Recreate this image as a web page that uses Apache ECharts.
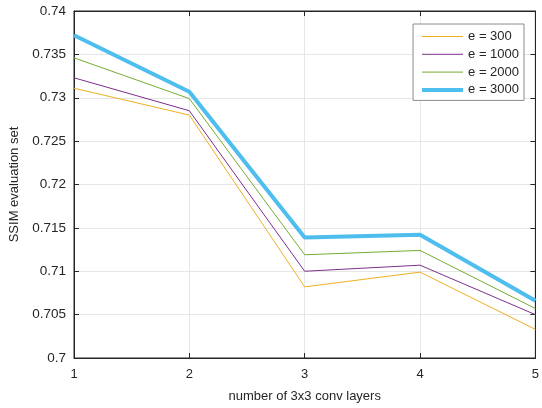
<!DOCTYPE html>
<html><head><meta charset="utf-8">
<script src="https://cdn.jsdelivr.net/npm/echarts@6/dist/echarts.min.js"></script>
<style>html,body{margin:0;padding:0;background:#fff}#c{width:542px;height:408px}</style>
</head><body><div id="c"></div>
<script>
const layers = [1, 2, 3, 4, 5];
const seriesNames = ['e = 300', 'e = 1000', 'e = 2000', 'e = 3000'];
const e300  = [0.7311, 0.7280, 0.7082, 0.7099, 0.7033];
const e1000 = [0.7323, 0.7285, 0.7100, 0.7107, 0.7050];
const e2000 = [0.7346, 0.7299, 0.7119, 0.7124, 0.7057];
const e3000 = [0.7372, 0.7307, 0.7139, 0.7142, 0.7066];
const colors = ['#EDB120', '#7E2F8E', '#77AC30', '#4DBEEE'];
const widths = [1, 1, 1, 4];
const allData = [e300, e1000, e2000, e3000];

const font = 'Liberation Sans, Arial, sans-serif';
const chart = echarts.init(document.getElementById('c'), null, {renderer: 'canvas'});
const axisCol = '#262626';
const gridLine = {show: true, lineStyle: {color: '#e6e6e6', width: 1}};
chart.setOption({
  animation: false,
  grid: {left: 74, right: 5, top: 11, bottom: 46, show: true, borderColor: axisCol, borderWidth: 1, backgroundColor: '#fff'},
  legend: {
    orient: 'vertical', right: 18, top: 24,
    data: seriesNames.map((n, i) => ({name: n, lineStyle: {width: widths[i], color: colors[i]}})),
    itemWidth: 41, itemHeight: 12, itemGap: 4.8,
    itemStyle: {opacity: 0},
    backgroundColor: '#fff', borderColor: '#8c8c8c', borderWidth: 1,
    padding: [6, 5, 4, 7],
    textStyle: {fontFamily: font, fontSize: 13, color: '#262626'}
  },
  xAxis: [{
    type: 'value', min: 1, max: 5, interval: 1,
    name: 'number of 3x3 conv layers', nameLocation: 'middle', nameGap: 32,
    nameTextStyle: {fontFamily: font, fontSize: 13, color: '#262626'},
    axisLine: {lineStyle: {color: axisCol}},
    axisTick: {inside: true, length: 5, lineStyle: {color: axisCol}},
    axisLabel: {fontFamily: font, fontSize: 13, color: '#262626', margin: 10},
    splitLine: gridLine
  }, {
    type: 'value', min: 1, max: 5, interval: 1, position: 'top',
    axisLine: {lineStyle: {color: axisCol}},
    axisTick: {inside: true, length: 5, lineStyle: {color: axisCol}},
    axisLabel: {show: false}, splitLine: {show: false}
  }],
  yAxis: [{
    type: 'value', min: 0.7, max: 0.74, interval: 0.005,
    name: 'SSIM evaluation set', nameLocation: 'middle', nameGap: 49,
    nameTextStyle: {fontFamily: font, fontSize: 13, color: '#262626'},
    axisLine: {show: true, lineStyle: {color: axisCol}},
    axisTick: {show: true, inside: true, length: 5, lineStyle: {color: axisCol}},
    axisLabel: {fontFamily: font, fontSize: 13.5, color: '#262626', margin: 8},
    splitLine: gridLine
  }, {
    type: 'value', min: 0.7, max: 0.74, interval: 0.005, position: 'right',
    axisLine: {show: true, lineStyle: {color: axisCol}},
    axisTick: {show: true, inside: true, length: 5, lineStyle: {color: axisCol}},
    axisLabel: {show: false}, splitLine: {show: false}
  }],
  series: allData.map((d, i) => ({
    name: seriesNames[i], type: 'line', symbol: 'none',
    data: d.map((v, j) => [layers[j], v]),
    lineStyle: {color: colors[i], width: widths[i]},
    itemStyle: {color: colors[i]},
    z: 2 + i
  }))
});
</script></body></html>
